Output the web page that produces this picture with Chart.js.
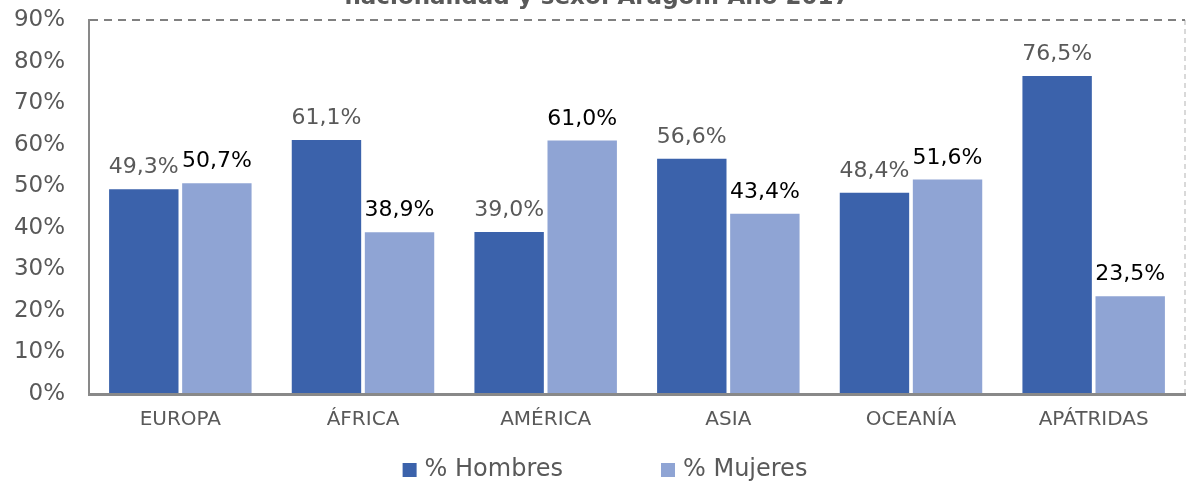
<!DOCTYPE html>
<html>
<head>
<meta charset="utf-8">
<script src="https://cdn.jsdelivr.net/npm/chart.js@4/dist/chart.umd.min.js"></script>
<style>
  html, body { margin: 0; padding: 0; background: #fff; }
  #wrap { width: 1186px; height: 485px; position: relative; }
</style>
</head>
<body>
<div id="wrap"><canvas id="chart"></canvas></div>
<script>
// datos
var continentes = ['EUROPA', 'ÁFRICA', 'AMÉRICA', 'ASIA', 'OCEANÍA', 'APÁTRIDAS'];
var hombres = [49.3, 61.1, 39.0, 56.6, 48.4, 76.5];
var mujeres = [50.7, 38.9, 61.0, 43.4, 51.6, 23.5];
var serieNombres = ['% Hombres', '% Mujeres'];
var tituloTexto = 'nacionalidad y sexo. Aragón. Año 2017';

var FONT = '"DejaVu Sans", Verdana, sans-serif';
var colHombres = '#3b62ab';
var colMujeres = '#8fa4d4';
var gris = '#595959';

function pct(v) {
    return v.toFixed(1).replace('.', ',') + '%';
}

// etiquetas encima de las barras
var etiquetasPlugin = {
    id: 'etiquetas',
    afterDatasetsDraw: function(chart) {
        var ctx = chart.ctx;
        ctx.save();
        ctx.font = '22px ' + FONT;
        ctx.textAlign = 'center';
        ctx.textBaseline = 'alphabetic';
        chart.data.datasets.forEach(function(ds, i) {
            var meta = chart.getDatasetMeta(i);
            ctx.fillStyle = i === 0 ? gris : '#000000';
            meta.data.forEach(function(bar, j) {
                ctx.fillText(pct(ds.data[j]), bar.x, bar.y - 16);
            });
        });
        ctx.restore();
    }
};

// titulo (cortado arriba) y leyenda
var extrasPlugin = {
    id: 'extras',
    afterDraw: function(chart) {
        var ctx = chart.ctx;
        ctx.save();
        ctx.font = 'bold 23px ' + FONT;
        ctx.fillStyle = gris;
        ctx.textAlign = 'center';
        ctx.textBaseline = 'alphabetic';
        ctx.fillText(tituloTexto, chart.width / 2 + 4, 4);

        ctx.font = '24px ' + FONT;
        ctx.textAlign = 'left';
        ctx.textBaseline = 'middle';
        var box = 14, gap = 8, sep = 98;
        var items = chart.data.datasets.map(function(ds) {
            return {text: ds.label, color: ds.backgroundColor, w: box + gap + ctx.measureText(ds.label).width};
        });
        var total = items.reduce(function(a, it) { return a + it.w; }, 0) + sep * (items.length - 1);
        var x = chart.width / 2 + 12 - total / 2;
        var y = 470;
        items.forEach(function(it) {
            ctx.fillStyle = it.color;
            ctx.fillRect(x, y - box / 2, box, box);
            ctx.fillStyle = gris;
            ctx.fillText(it.text, x + box + gap, y);
            x += it.w + sep;
        });
        ctx.restore();
    }
};

var ctx = document.getElementById('chart').getContext('2d');
var grafico = new Chart(ctx, {
    type: 'bar',
    data: {
        labels: continentes,
        datasets: [{
            label: serieNombres[0],
            data: hombres,
            backgroundColor: colHombres,
            categoryPercentage: 0.8,
            barPercentage: 0.95
        }, {
            label: serieNombres[1],
            data: mujeres,
            backgroundColor: colMujeres,
            categoryPercentage: 0.8,
            barPercentage: 0.95
        }]
    },
    options: {
        responsive: true,
        maintainAspectRatio: false,
        animation: false,
        layout: { padding: { top: 20, right: 1, bottom: 51, left: 0 } },
        plugins: {
            legend: { display: false },
            title: { display: false },
            tooltip: { enabled: false }
        },
        scales: {
            x: {
                grid: {
                    drawTicks: false,
                    lineWidth: 2,
                    color: function(c) { return c.tick ? 'rgba(0,0,0,0)' : '#d9d9d9'; }
                },
                border: { display: true, color: '#898989', width: 3, dash: [5, 4] },
                ticks: {
                    color: gris,
                    font: { family: FONT, size: 20 },
                    padding: 14,
                    maxRotation: 0
                },
                afterFit: function(scale) { scale.height = 40; }
            },
            y: {
                min: 0,
                max: 90,
                grid: {
                    drawTicks: false,
                    lineWidth: 2,
                    color: function(c) { return c.tick && c.tick.value === 90 ? '#808080' : 'rgba(0,0,0,0)'; }
                },
                border: { display: true, color: '#898989', width: 2, dash: [8, 6] },
                ticks: {
                    stepSize: 10,
                    color: gris,
                    font: { family: FONT, size: 23 },
                    padding: 24,
                    callback: function(v) { return v + '%'; }
                },
                afterFit: function(scale) {
                    scale.width = 89;
                    scale.paddingTop = 0;
                    scale.paddingBottom = 0;
                }
            }
        }
    },
    plugins: [etiquetasPlugin, extrasPlugin]
});
</script>
</body>
</html>
